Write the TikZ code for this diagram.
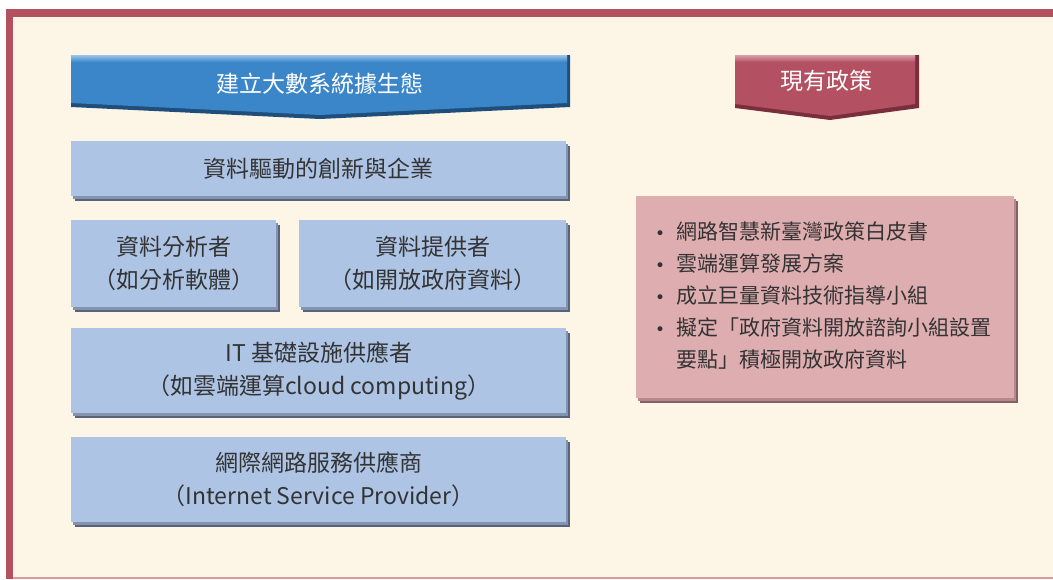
\documentclass[tikz,border=0pt]{standalone}
\usepackage{fontspec}
\setmainfont{Noto Sans CJK TC}
\newfontfamily\dvfont{DejaVu Sans}
\usetikzlibrary{shadows}
\definecolor{bg}{HTML}{FDF6E7}
\definecolor{framecol}{HTML}{B5505F}
\definecolor{framebot}{HTML}{D99B9E}
\definecolor{bluebanner}{HTML}{3A86C8}
\definecolor{bluedark}{HTML}{1F4E7A}
\definecolor{bluelight}{HTML}{9CC4E8}
\definecolor{redbanner}{HTML}{B35163}
\definecolor{reddark}{HTML}{7A2E3C}
\definecolor{redlight}{HTML}{D8A0AA}
\definecolor{boxfill}{HTML}{AEC4E5}
\definecolor{boxdark}{HTML}{56637A}
\definecolor{boxmid}{HTML}{8494AE}
\definecolor{pinkfill}{HTML}{DEADB0}
\definecolor{pinkdark}{HTML}{856163}
\definecolor{pinkmid}{HTML}{B48A8D}
\definecolor{txt}{HTML}{333333}
\newcommand{\bul}{\makebox[21pt][l]{\fontsize{17}{32}\dvfont •}}
\begin{document}
\begin{tikzpicture}[x=1pt,y=-1pt,
  bluebox/.style={fill=boxfill, text=txt, inner sep=0pt, anchor=north west, align=center,
    font=\fontsize{23}{33}\selectfont,
    general shadow={shadow xshift=4pt,shadow yshift=-5pt,fill=boxdark},
    general shadow={shadow xshift=2pt,shadow yshift=-2.5pt,fill=boxmid}},
  pinkbox/.style={fill=pinkfill, inner sep=0pt, anchor=north west,
    general shadow={shadow xshift=4pt,shadow yshift=-5pt,fill=pinkdark},
    general shadow={shadow xshift=2pt,shadow yshift=-2.5pt,fill=pinkmid}},
  bannertext/.style={text=white, inner sep=0pt, font=\fontsize{23}{28}\selectfont},
  listtext/.style={text=txt, inner sep=0pt, anchor=north west, align=left,
    font=\fontsize{21}{32}\selectfont}]
\useasboundingbox (0,0) rectangle (1053,579);
% frame
\fill[white] (0,0) rectangle (1053,579);
\fill[framecol] (6,9) rectangle (1053,579);
\fill[bg] (13,17) rectangle (1053,577);
\fill[framebot] (13,577) rectangle (1053,579);

% blue banner
\fill[bluedark] (71,55) -- (570,55) -- (570,107) -- (320,119) -- (71,107) -- cycle;
\fill[bluebanner] (71,55) -- (567,55) -- (567,103) -- (320,115) -- (71,103) -- cycle;
\shade[top color=bluelight, bottom color=bluebanner] (71,55) rectangle (567,62);
\node[bannertext] (t1) at (320,84) {建立大數系統據生態};

% red banner
\fill[reddark] (735,55) -- (919,55) -- (919,108) -- (830,120) -- (735,108) -- cycle;
\fill[redbanner] (735,55) -- (915,55) -- (915,104) -- (830,116) -- (735,104) -- cycle;
\shade[top color=redlight, bottom color=redbanner] (735,55) rectangle (915,62);
\node[bannertext] (t2) at (826,81) {現有政策};

% blue boxes
\node[bluebox, minimum width=495pt, minimum height=55pt] (b1) at (71,141) {\raisebox{-2pt}{資料驅動的創新與企業}};
\node[bluebox, minimum width=205pt, minimum height=87pt] (b2) at (71,220) {資料分析者\\（如分析軟體）};
\node[bluebox, minimum width=267pt, minimum height=87pt] (b3) at (299,220) {資料提供者\\（如開放政府資料）};
\node[bluebox, minimum width=495pt, minimum height=85pt] (b4) at (71,328) {IT 基礎設施供應者\\（如雲端運算cloud computing）};
\node[bluebox, minimum width=495pt, minimum height=85pt] (b5) at (71,437) {網際網路服務供應商\\（Internet Service Provider）};

% pink box
\node[pinkbox, minimum width=378pt, minimum height=202pt] (p1) at (636,196) {};
\node[listtext] (plist) at (655,217) {\begin{tabular}{@{}l@{}l@{}}
\bul & 網路智慧新臺灣政策白皮書\\
\bul & 雲端運算發展方案\\
\bul & 成立巨量資料技術指導小組\\
\bul & 擬定「政府資料開放諮詢小組設置\\
 & 要點」積極開放政府資料
\end{tabular}};
\end{tikzpicture}
\end{document}
